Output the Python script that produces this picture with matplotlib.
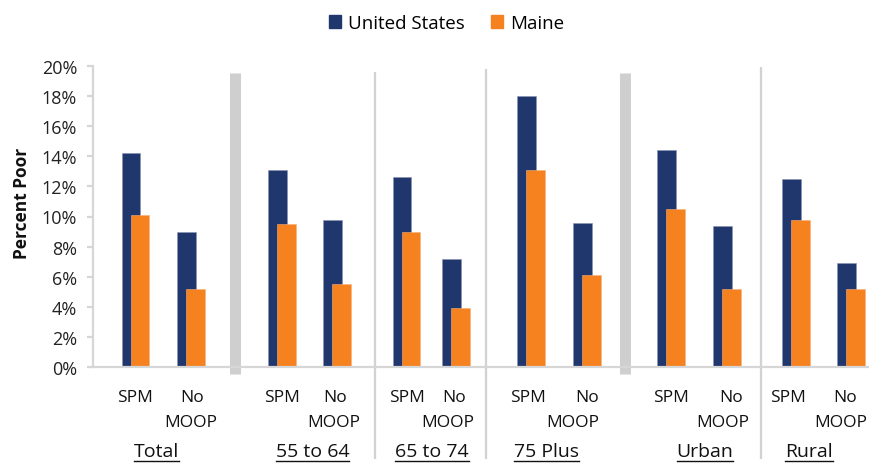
import matplotlib
matplotlib.use("Agg")
import matplotlib.pyplot as plt
from matplotlib.patches import Patch
from matplotlib.lines import Line2D
from matplotlib.transforms import blended_transform_factory

# ---------------- data ----------------
groups = ["Total", "55 to 64", "65 to 74", "75 Plus", "Urban", "Rural"]
measures = ["SPM", "No\nMOOP"]
series = ["United States", "Maine"]
us_values = [14.2, 9.0, 13.1, 9.8, 12.6, 7.2, 18.0, 9.6, 14.4, 9.4, 12.5, 6.9]
maine_values = [10.1, 5.2, 9.5, 5.5, 9.0, 3.9, 13.1, 6.1, 10.5, 5.2, 9.8, 5.2]
y_ticks = [0, 2, 4, 6, 8, 10, 12, 14, 16, 18, 20]
y_label = "Percent Poor"

# ---------------- layout ----------------
W, H, DPI = 871, 464, 100
ax_left, ax_right, ax_top, ax_bot = 93, 868, 66.7, 368.3
cat_x = [42.5, 98.1, 189.3, 244.3, 313.5, 362.7, 438.3, 493.7, 578.0, 633.7, 702.8, 758.0]
# label line positions (first line / second line) in the same x units
line1_x = [42.0, 98.7, 188.7, 242.0, 313.5, 361.0, 435.0, 493.7, 577.5, 638.5, 694.5, 752.0]
line2_x = [None, 97.7, None, 241.0, None, 354.5, None, 480.0, None, 630.0, None, 748.0]
group_x = [63.7, 219.5, 339.0, 453.0, 612.0, 716.0]
thick_sep = [141.6, 531.5]
thin_sep = [(281.5, 73), (393.0, 70), (668.0, 68)]
bar_w = 18.7
offset = 4.5
navy = "#1F376C"
orange = "#F5821F"
font = ["Open Sans", "DejaVu Sans"]
plt.rcParams["font.family"] = font

fig = plt.figure(figsize=(W / DPI, H / DPI), dpi=DPI)
ax = fig.add_axes([ax_left / W, 1 - ax_bot / H, (ax_right - ax_left) / W, (ax_bot - ax_top) / H])
ax.set_xlim(0, ax_right - ax_left)
ax.set_ylim(0, 20)
px_per_unit = (ax_bot - ax_top) / 20.0

def px_to_val(ypx):
    return (ax_bot - ypx) / px_per_unit

labels = [measures[i % 2] for i in range(len(us_values))]
ax.bar([x - offset for x in cat_x], us_values, width=bar_w, color=navy, zorder=3,
       edgecolor="#8A93B5", linewidth=0.4)
ax.bar([x + offset for x in cat_x], maine_values, width=bar_w, color=orange, zorder=4,
       edgecolor="#F8B07A", linewidth=0.4)

# separators
for xs in thick_sep:
    ax.plot([xs, xs], [px_to_val(74), px_to_val(375)], color="#CFCFCF", lw=11 * 0.72,
            solid_capstyle="butt", clip_on=False, zorder=2)
for xs, top in thin_sep:
    ax.plot([xs, xs], [px_to_val(top), px_to_val(460)], color="#D2D2D2", lw=2.3 * 0.72,
            solid_capstyle="butt", clip_on=False, zorder=2)

# spines
for s in ["top", "right"]:
    ax.spines[s].set_visible(False)
for s in ["left", "bottom"]:
    ax.spines[s].set_color("#D6D6D6")
    ax.spines[s].set_linewidth(1.6)
ax.spines["bottom"].set_zorder(5)

ax.set_yticks(y_ticks)
ax.set_yticklabels([f"{t}%" for t in y_ticks], fontsize=13, color="#222222")
ax.tick_params(axis="y", direction="out", length=4.5, width=1.6, color="#D6D6D6", pad=7)
ax.set_xticks([])
ax.set_ylabel(y_label, fontsize=12.5, fontweight="bold", color="#111111")
ax.yaxis.set_label_coords(-0.0795, 0.546)

# category labels
tr = blended_transform_factory(ax.transData, fig.transFigure)
for i, lab in enumerate(labels):
    lines = lab.split("\n")
    xs = [line1_x[i], line2_x[i]]
    for j, line in enumerate(lines):
        base = 401.7 + 25 * j
        ax.text(xs[j], 1 - base / H, line, transform=tr, ha="center", va="baseline",
                fontsize=12.5, color="#111111")

# group labels (underlined)
gtexts = []
for x, g in zip(group_x, groups):
    t = ax.text(x, 1 - 456.7 / H, g, transform=tr, ha="center", va="baseline",
                fontsize=14, color="#111111")
    gtexts.append(t)

# legend
handles = [Patch(facecolor=navy, edgecolor=navy), Patch(facecolor=orange, edgecolor=orange)]
fig.legend(handles, series, loc="center", bbox_to_anchor=(446.5 / W, 1 - 24 / H), ncol=2,
           frameon=False, fontsize=13.5, handlelength=0.65, handleheight=0.65,
           handletextpad=0.35, columnspacing=1.4)

fig.canvas.draw()
renderer = fig.canvas.get_renderer()
for t in gtexts:
    bb = t.get_window_extent(renderer)
    yline = 1 - 461.7 / H
    fig.add_artist(Line2D([bb.x0 / W, bb.x1 / W], [yline, yline], transform=fig.transFigure,
                          color="#111111", lw=1.0))

fig.savefig("out.png", dpi=DPI)
